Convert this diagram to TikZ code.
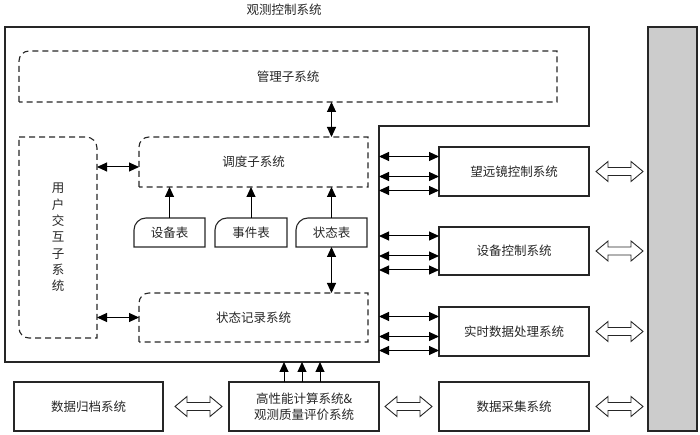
\documentclass[tikz,border=0pt]{standalone}
\usepackage{fontspec}
\newfontfamily\cjk{Noto Sans CJK SC}
\usetikzlibrary{arrows.meta,calc}
\tikzset{
  txt/.style={font=\cjk\fontsize{12.5}{16.3}\selectfont, text=black!85},
  box/.style={txt,draw=black!85,line width=1.1pt,minimum width=150pt,minimum height=49pt,inner sep=0pt,outer sep=0pt},
  area/.style={txt,draw=none,inner sep=0pt,outer sep=0pt},
  dsh/.style={draw=black!85,line width=1.1pt,dash pattern=on 6pt off 4pt},
  solidline/.style={draw=black!85,line width=1.1pt},
  arr/.style={{Triangle[length=10pt,width=9pt]}-{Triangle[length=10pt,width=9pt]}, line width=1pt},
  uparr/.style={-{Triangle[length=10pt,width=9pt]}, line width=1pt},
  harrow/.pic={\draw[line width=0.9pt,draw=black!85,fill=white] (0,0) -- (12,10) -- (12,4) -- (35,4) -- (35,10) -- (47,0) -- (35,-10) -- (35,-4) -- (12,-4) -- (12,-10) -- cycle;}
}
\begin{document}
\begin{tikzpicture}[x=1pt,y=1pt]
\useasboundingbox (0,0) rectangle (700,435);
% outer system outline
\draw[solidline,line width=1.2pt] (5,408) -- (589,408) -- (589,309) -- (379,309) -- (379,73) -- (5,73) -- cycle;
\coordinate (wall) at (379,309);
\coordinate (floor) at (5,73);
\node[txt] (title) at (284,425) {观测控制系统};

% management subsystem
\node[area,minimum width=538pt,minimum height=51pt] (mgmt) at (288,358.5) {管理子系统};
\draw[dsh] (mgmt.south west) -- ([yshift=-10pt]mgmt.north west) arc[start angle=180,end angle=90,radius=10pt] -- (mgmt.north east) -- (mgmt.south east) -- cycle;

% scheduling subsystem
\node[area,minimum width=229pt,minimum height=50pt] (sched) at (253.5,273) {调度子系统};
\draw[dsh] (sched.south west) -- ([yshift=-10pt]sched.north west) arc[start angle=180,end angle=90,radius=10pt] -- (sched.north east) -- (sched.south east) -- cycle;

% user interaction subsystem
\node[area,align=center,minimum width=78pt,minimum height=201pt] (ui) at (58,197.5) {用\\户\\交\\互\\子\\系\\统};
\draw[dsh] (ui.north west) -- ([xshift=-11pt]ui.north east) arc[start angle=90,end angle=0,radius=11pt] -- (ui.south east) -- ([xshift=10pt]ui.south west) arc[start angle=270,end angle=180,radius=10pt] -- cycle;

% status record system
\node[area,minimum width=229pt,minimum height=49pt] (rec) at (253.5,117.5) {状态记录系统};
\draw[dsh] (rec.south west) -- ([yshift=-10pt]rec.north west) arc[start angle=180,end angle=90,radius=10pt] -- (rec.north east) -- (rec.south east) -- cycle;

% tables
\node[area,minimum width=71pt,minimum height=29pt] (dev) at (169.5,202.5) {设备表};
\node[area,minimum width=72pt,minimum height=29pt] (evt) at (251,202.5) {事件表};
\node[area,minimum width=71pt,minimum height=29pt] (sta) at (331.5,202.5) {状态表};
\foreach \t in {dev,evt,sta}{
  \draw[solidline] (\t.south west) -- ([yshift=-12pt]\t.north west) arc[start angle=180,end angle=90,radius=12pt] -- (\t.north east) -- (\t.south east) -- cycle;
  \draw[uparr] (\t.north) -- (\t.north |- sched.south);
}

% internal connectors
\draw[arr] (sta.north |- mgmt.south) -- (sta.north |- sched.north);
\draw[arr] (sta.south) -- (sta.south |- rec.north);
\draw[arr] ([yshift=-5pt]sched.west -| ui.east) -- ([yshift=-5pt]sched.west);
\draw[arr] (rec.west -| ui.east) -- (rec.west);

% right-hand systems
\node[box] (tel) at (514,263.5) {望远镜控制系统};
\node[box,minimum height=48pt] (dctl) at (514,184) {设备控制系统};
\node[box] (rt) at (514,103.5) {实时数据处理系统};
\node[box] (acq) at (514,28.5) {数据采集系统};
\node[box,minimum width=149pt] (arch) at (88.5,28.5) {数据归档系统};
\node[box,align=center] (hpc) at (304,28.5) {高性能计算系统\&\\观测质量评价系统};

\foreach \b in {tel,dctl,rt}
  \foreach \d in {15,-5,-19}
    \draw[arr] ([yshift=\d pt]\b.west -| wall) -- ([yshift=\d pt]\b.west);

\foreach \d in {-20,-2,16}
  \draw[uparr] ([xshift=\d pt]hpc.north) -- ([xshift=\d pt]hpc.north |- floor);

% grey bus
\node[draw=black!85,line width=1.1pt,fill={rgb,255:red,204;green,204;blue,204},minimum width=49pt,minimum height=404pt,inner sep=0pt,outer sep=0pt] (bus) at (672.5,206) {};

% hollow double arrows
\pic at ([xshift=7pt]tel.east) {harrow};
\pic at ([xshift=7pt]dctl.east) {harrow};
\pic at ([xshift=7pt]rt.east) {harrow};
\pic at ([xshift=7pt]acq.east) {harrow};
\pic at ([xshift=12pt]arch.east) {harrow};
\pic at ([xshift=6pt]hpc.east) {harrow};
\end{tikzpicture}
\end{document}
